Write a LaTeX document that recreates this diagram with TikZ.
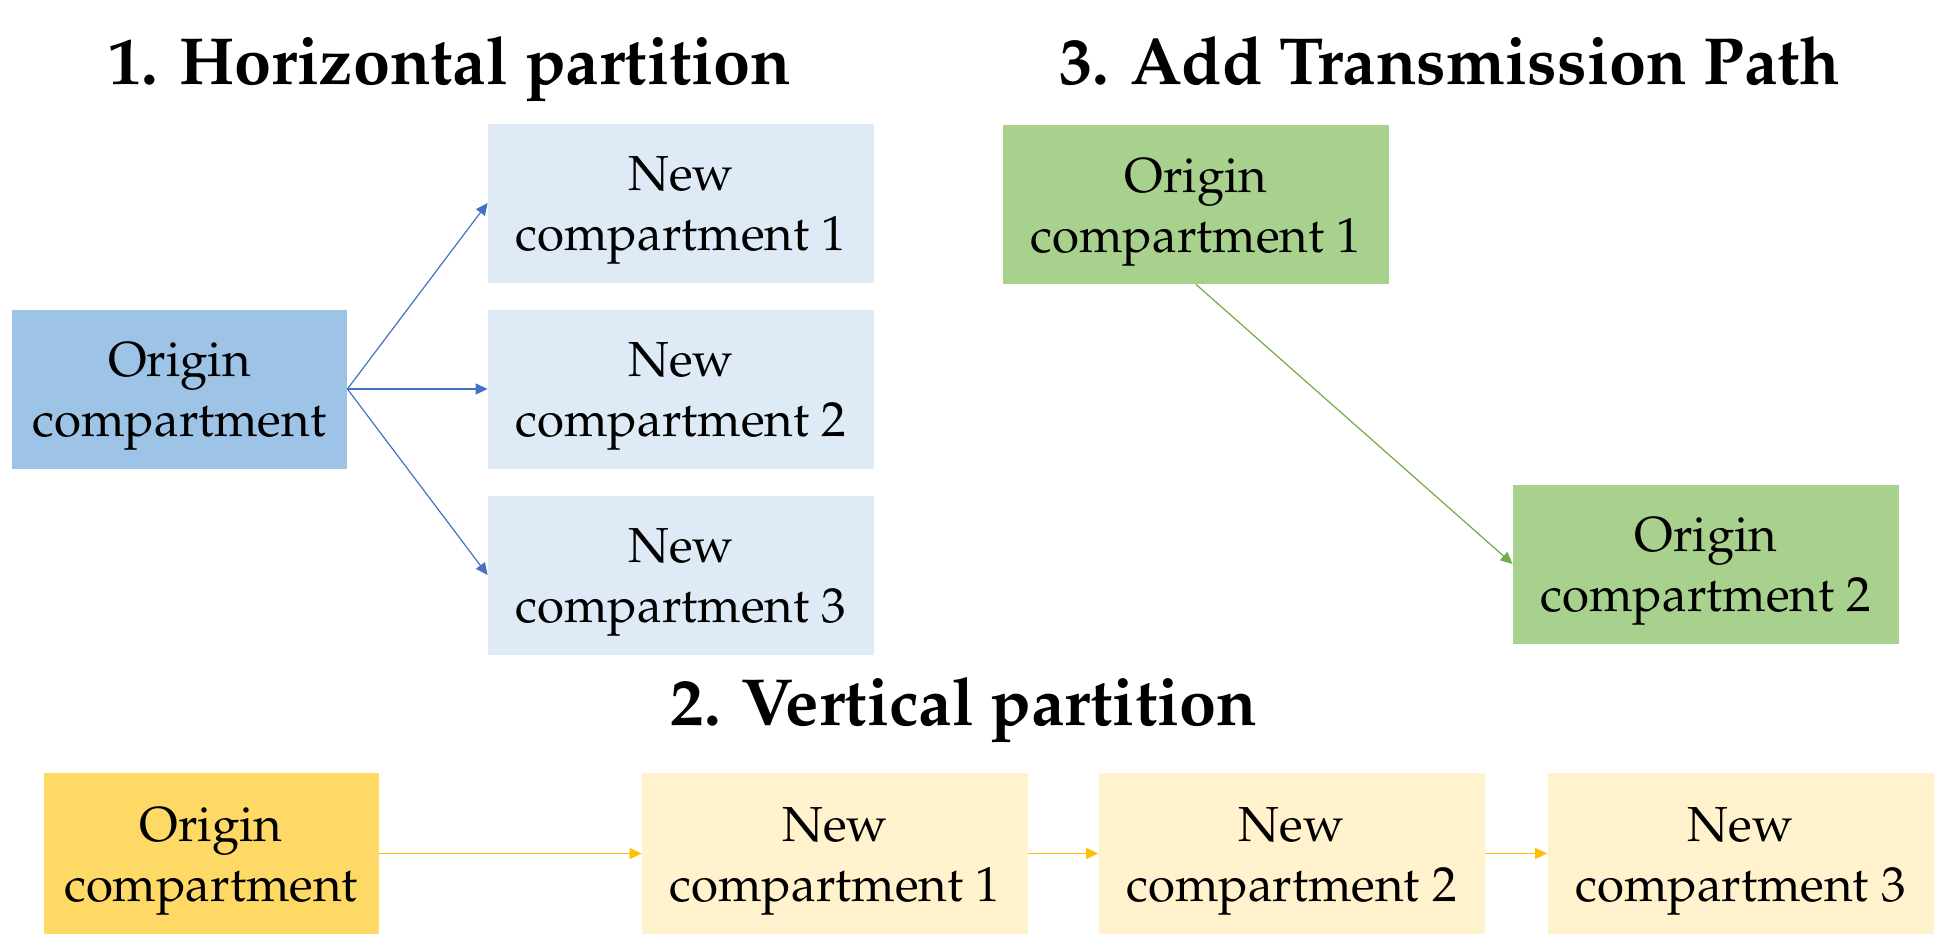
\documentclass[tikz,border=0pt]{standalone}
\usepackage[T1]{fontenc}
\usepackage{mathpazo}
\usepackage{tikz}
\usetikzlibrary{arrows.meta}

\definecolor{hor dark}{HTML}{9DC3E6}
\definecolor{hor light}{HTML}{DEEBF7}
\definecolor{hor arrow}{HTML}{4472C4}
\definecolor{ver dark}{HTML}{FFD966}
\definecolor{ver light}{HTML}{FFF2CC}
\definecolor{ver arrow}{HTML}{FFC000}
\definecolor{path fill}{HTML}{A9D18E}
\definecolor{path arrow}{HTML}{70AD47}

\newcommand{\toppad}{\rule{0pt}{24.5pt}}

\begin{document}
\begin{tikzpicture}
                [
                    x=0.5pt,
                    y=-0.5pt,
                    >={Triangle[length=6pt, width=5.5pt]},
                    compartment/.style={shape=rectangle, align=center, inner sep=0pt,
                                        minimum width=193pt, minimum height=79.5pt,
                                        font=\fontsize{24.6}{30}\selectfont},
                    origin compartment/.style={compartment, minimum width=167.5pt},
                    heading/.style={anchor=base, font=\fontsize{33.3}{40}\selectfont\bfseries},
                    split hor/.style={->, color=hor arrow, line width=0.6pt},
                    split ver/.style={->, color=ver arrow, line width=0.6pt},
                    transmit/.style={->, color=path arrow, line width=0.6pt}
                ]
                \useasboundingbox [fill=white] (0,0) rectangle (1939,942);

                \node (title hor)  [heading] at (450,84)  {1. Horizontal partition};
                \node (title path) [heading] at (1450,84) {3. Add Transmission Path};
                \node (title ver)  [heading] at (964,725) {2. Vertical partition};

                \node (hor origin)
                      [origin compartment, fill=hor dark]
                      at (179.5,389)
                      {\toppad Origin\\compartment};
                \node (hor new 2)
                      [compartment, fill=hor light, right of=hor origin, node distance=250.75pt]
                      {\toppad New\\compartment 2};
                \node (hor new 1)
                      [compartment, fill=hor light, above of=hor new 2, node distance=93pt]
                      {\toppad New\\compartment 1};
                \node (hor new 3)
                      [compartment, fill=hor light, below of=hor new 2, node distance=93pt]
                      {\toppad New\\compartment 3};

                \node (path origin 1)
                      [compartment, fill=path fill]
                      at (1196,204.5)
                      {\toppad Origin\\compartment 1};
                \node (path origin 2)
                      [compartment, fill=path fill]
                      at (1706,564)
                      {\toppad Origin\\compartment 2};

                \node (ver origin)
                      [origin compartment, fill=ver dark, minimum height=80.5pt]
                      at (211,853.5)
                      {\toppad Origin\\compartment};
                \node (ver new 1)
                      [compartment, fill=ver light, minimum height=80.5pt, right of=ver origin, node distance=312pt]
                      {\toppad New\\compartment 1};
                \node (ver new 2)
                      [compartment, fill=ver light, minimum height=80.5pt, right of=ver new 1, node distance=228.25pt]
                      {\toppad New\\compartment 2};
                \node (ver new 3)
                      [compartment, fill=ver light, minimum height=80.5pt, right of=ver new 2, node distance=224.5pt]
                      {\toppad New\\compartment 3};

                \path
                (hor origin.east) edge [split hor] (hor new 1.west)
                (hor origin.east) edge [split hor] (hor new 2.west)
                (hor origin.east) edge [split hor] (hor new 3.west)
                (path origin 1.south) edge [transmit] (path origin 2.west)
                (ver origin) edge [split ver] (ver new 1)
                (ver new 1) edge [split ver] (ver new 2)
                (ver new 2) edge [split ver] (ver new 3)
                ;
\end{tikzpicture}
\end{document}
